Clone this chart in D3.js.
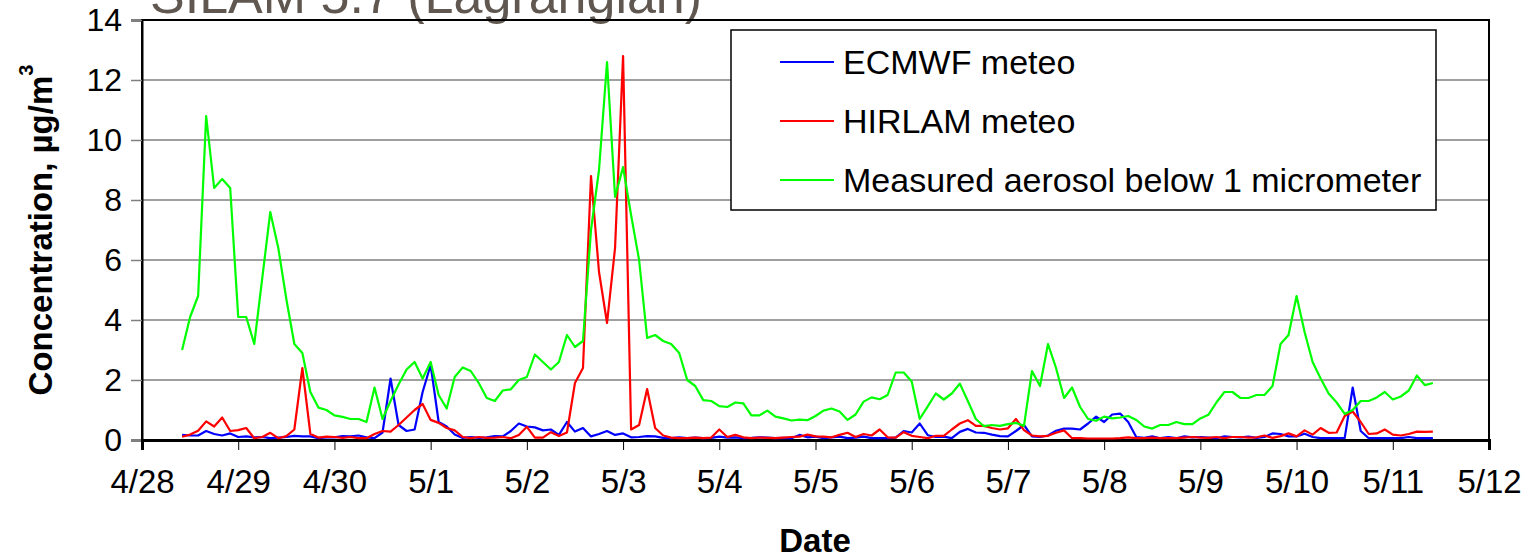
<!DOCTYPE html>
<html>
<head>
<meta charset="utf-8">
<script src="https://cdn.jsdelivr.net/npm/d3@7"></script>
<style>
  body { margin: 0; background: #fff; }
  text { font-family: "Liberation Sans", Arial, sans-serif; }
</style>
</head>
<body>
<div id="chartArea"></div>
<script>
// SILAM 5.7 (Lagrangian) - modelled vs measured aerosol, 2-hourly values
// first value at 4/28 10:00, one value every 2 hours

const startTime = new Date(2006, 3, 28, 10);
const stepHours = 2;

const ecmwf = [
  0.17, 0.15, 0.15, 0.3, 0.2, 0.15, 0.22, 0.1, 0.12, 0.09, 0.1, 0.06,
  0.08, 0.1, 0.14, 0.12, 0.12, 0.06, 0.09, 0.09, 0.13, 0.12, 0.15, 0.09,
  0.06, 0.25, 2.05, 0.5, 0.3, 0.35, 1.6, 2.5, 0.6, 0.45, 0.18, 0.07,
  0.1, 0.07, 0.09, 0.13, 0.12, 0.3, 0.55, 0.45, 0.42, 0.32, 0.35, 0.17,
  0.6, 0.28, 0.4, 0.12, 0.2, 0.3, 0.17, 0.22, 0.09, 0.1, 0.13, 0.12,
  0.07, 0.06, 0.09, 0.06, 0.08, 0.06, 0.07, 0.11, 0.08, 0.09, 0.06, 0.07,
  0.09, 0.08, 0.06, 0.07, 0.06, 0.17, 0.09, 0.11, 0.06, 0.09, 0.11, 0.06,
  0.08, 0.11, 0.06, 0.06, 0.06, 0.08, 0.3, 0.25, 0.55, 0.16, 0.1, 0.11,
  0.06, 0.27, 0.37, 0.25, 0.24, 0.18, 0.13, 0.12, 0.3, 0.5, 0.12, 0.1,
  0.15, 0.31, 0.38, 0.38, 0.35, 0.55, 0.78, 0.6, 0.85, 0.88, 0.6, 0.1,
  0.07, 0.12, 0.06, 0.1, 0.06, 0.12, 0.09, 0.1, 0.08, 0.06, 0.12, 0.1,
  0.09, 0.11, 0.07, 0.1, 0.22, 0.2, 0.12, 0.12, 0.21, 0.1, 0.06, 0.06,
  0.06, 0.06, 1.75, 0.3, 0.06, 0.06, 0.06, 0.06, 0.06, 0.1, 0.06, 0.06,
  0.06
];

const hirlam = [
  0.11, 0.18, 0.31, 0.62, 0.45, 0.75, 0.3, 0.33, 0.4, 0.06, 0.1, 0.24,
  0.06, 0.13, 0.35, 2.4, 0.2, 0.08, 0.11, 0.1, 0.07, 0.1, 0.06, 0.06,
  0.2, 0.3, 0.28, 0.5, 0.75, 1.0, 1.2, 0.67, 0.57, 0.4, 0.32, 0.1,
  0.06, 0.1, 0.07, 0.08, 0.1, 0.06, 0.17, 0.44, 0.08, 0.08, 0.26, 0.13,
  0.25, 1.9, 2.4, 8.8, 5.6, 3.9, 6.4, 12.8, 0.35, 0.5, 1.7, 0.4,
  0.15, 0.08, 0.06, 0.06, 0.08, 0.06, 0.08, 0.35, 0.1, 0.17, 0.09, 0.06,
  0.08, 0.07, 0.06, 0.08, 0.1, 0.11, 0.18, 0.12, 0.11, 0.09, 0.17, 0.24,
  0.1, 0.2, 0.15, 0.35, 0.09, 0.08, 0.26, 0.14, 0.1, 0.06, 0.14, 0.14,
  0.35, 0.55, 0.66, 0.47, 0.47, 0.4, 0.35, 0.39, 0.7, 0.33, 0.15, 0.12,
  0.14, 0.24, 0.32, 0.06, 0.06, 0.05, 0.05, 0.05, 0.05, 0.06, 0.09, 0.06,
  0.06, 0.08, 0.06, 0.06, 0.06, 0.08, 0.1, 0.08, 0.07, 0.1, 0.06, 0.1,
  0.1, 0.08, 0.09, 0.15, 0.07, 0.13, 0.22, 0.12, 0.32, 0.18, 0.4, 0.24,
  0.25, 0.8, 0.95, 0.6, 0.2, 0.22, 0.35, 0.18, 0.15, 0.2, 0.28, 0.27,
  0.28
];

const measured = [
  3.0, 4.1, 4.8, 10.8, 8.4, 8.7, 8.4, 4.1, 4.1, 3.2, 5.4, 7.6,
  6.4, 4.7, 3.2, 2.9, 1.6, 1.08, 1.0, 0.82, 0.77, 0.7, 0.7, 0.6,
  1.75, 0.7, 1.3, 1.85, 2.35, 2.6, 2.05, 2.6, 1.5, 1.05, 2.1, 2.42,
  2.3, 1.9, 1.4, 1.3, 1.65, 1.69, 2.0, 2.1, 2.85, 2.6, 2.35, 2.6,
  3.5, 3.1, 3.3, 7.0, 9.0, 12.6, 8.1, 9.1, 7.5, 6.0, 3.4, 3.5,
  3.3, 3.2, 2.9, 2.0, 1.8, 1.33, 1.3, 1.13, 1.1, 1.25, 1.22, 0.82,
  0.82, 0.98, 0.78, 0.72, 0.65, 0.68, 0.66, 0.8, 0.98, 1.05, 0.95, 0.67,
  0.85, 1.28, 1.42, 1.36, 1.5, 2.25, 2.25, 1.95, 0.7, 1.12, 1.55, 1.35,
  1.55, 1.88, 1.3, 0.7, 0.46, 0.5, 0.47, 0.53, 0.57, 0.47, 2.3, 1.8,
  3.2, 2.4, 1.4, 1.75, 1.1, 0.7, 0.64, 0.78, 0.72, 0.75, 0.8, 0.67,
  0.45, 0.38, 0.5, 0.5, 0.6, 0.53, 0.53, 0.72, 0.84, 1.25, 1.6, 1.6,
  1.4, 1.4, 1.5, 1.5, 1.8, 3.2, 3.5, 4.8, 3.6, 2.6, 2.05, 1.55,
  1.25, 0.87, 1.0, 1.3, 1.3, 1.42, 1.6, 1.35, 1.45, 1.65, 2.15, 1.83,
  1.9
];

const seriesNames = ["ECMWF meteo", "HIRLAM meteo", "Measured aerosol below 1 micrometer"];
const seriesColors = ["#0000ff", "#ff0000", "#00ff00"];
const yTicks = [0, 2, 4, 6, 8, 10, 12, 14];
const xStart = new Date(2006, 3, 28);
const xEnd = new Date(2006, 4, 12);

const width = 1526;
const height = 559;
const margin = { top: 20, right: 37, bottom: 119, left: 142 };

const svg = d3.select("#chartArea")
  .append("svg")
  .attr("width", width)
  .attr("height", height);

const xScale = d3.scaleTime()
  .domain([xStart, xEnd])
  .range([margin.left, width - margin.right]);

const yScale = d3.scaleLinear()
  .domain([0, 14])
  .range([height - margin.bottom, margin.top]);

const timeAt = (i) => d3.timeHour.offset(startTime, i * stepHours);

// title (partly cut off at the top, as in the original)
svg.append("text")
  .attr("x", 150)
  .attr("y", 13)
  .attr("font-size", 52)
  .attr("fill", "#5f5750")
  .text("SILAM 5.7 (Lagrangian)");

// gridlines
svg.append("g")
  .selectAll("line")
  .data(yTicks.filter((d) => d > 0 && d < 14))
  .join("line")
  .attr("x1", margin.left)
  .attr("x2", width - margin.right)
  .attr("y1", (d) => yScale(d))
  .attr("y2", (d) => yScale(d))
  .attr("stroke", "#808080")
  .attr("stroke-width", 1.5);

// plot border
svg.append("rect")
  .attr("x", margin.left)
  .attr("y", margin.top)
  .attr("width", width - margin.left - margin.right)
  .attr("height", height - margin.top - margin.bottom)
  .attr("fill", "none")
  .attr("stroke", "#000")
  .attr("stroke-width", 2);

// y axis
const yAxis = svg.append("g")
  .attr("transform", `translate(${margin.left}, 0)`)
  .call(d3.axisLeft(yScale).tickValues(yTicks).tickSize(11).tickPadding(9));
yAxis.select(".domain").attr("stroke", "#000").attr("stroke-width", 2);
yAxis.selectAll(".tick line").attr("stroke", "#808080").attr("stroke-width", 1.5);
yAxis.selectAll("text").attr("font-size", 32).attr("fill", "#000")
  .attr("font-family", "Liberation Sans, Arial, sans-serif");

// x axis
const xAxis = svg.append("g")
  .attr("transform", `translate(0, ${height - margin.bottom})`)
  .call(d3.axisBottom(xScale)
    .ticks(d3.timeDay.every(1))
    .tickFormat(d3.timeFormat("%-m/%-d"))
    .tickSize(10)
    .tickPadding(20));
xAxis.select(".domain").attr("stroke", "#000").attr("stroke-width", 3);
xAxis.selectAll(".tick line").attr("stroke", "#000").attr("stroke-width", 1);
xAxis.selectAll("text").attr("font-size", 33).attr("fill", "#000")
  .attr("font-family", "Liberation Sans, Arial, sans-serif");

// series lines
const line = d3.line()
  .x((d, i) => xScale(timeAt(i)))
  .y((d) => yScale(d));

[ecmwf, hirlam, measured].forEach((values, k) => {
  svg.append("path")
    .datum(values)
    .attr("fill", "none")
    .attr("stroke", seriesColors[k])
    .attr("stroke-width", 2.2)
    .attr("stroke-linejoin", "round")
    .attr("d", line);
});

// axis titles
svg.append("text")
  .attr("transform", "translate(40, 230) rotate(-90)")
  .attr("text-anchor", "middle")
  .attr("dominant-baseline", "central")
  .attr("font-size", 33)
  .attr("font-weight", "bold")
  .text("Concentration, \u00b5g/m")
  .append("tspan")
  .attr("font-size", 20)
  .attr("dy", -14)
  .text("3");

svg.append("text")
  .attr("x", 815)
  .attr("y", 552)
  .attr("text-anchor", "middle")
  .attr("font-size", 33)
  .attr("font-weight", "bold")
  .text("Date");

// legend
const legend = svg.append("g").attr("transform", "translate(731, 30)");
legend.append("rect")
  .attr("width", 705)
  .attr("height", 180)
  .attr("fill", "#fff")
  .attr("stroke", "#000")
  .attr("stroke-width", 1.5);

const rows = legend.selectAll(".row")
  .data(seriesNames)
  .join("g")
  .attr("class", "row")
  .attr("transform", (d, i) => `translate(0, ${32 + i * 59})`);
rows.append("line")
  .attr("x1", 49)
  .attr("x2", 103)
  .attr("stroke", (d, i) => seriesColors[i])
  .attr("stroke-width", 2);
rows.append("text")
  .attr("x", 112)
  .attr("dy", "0.35em")
  .attr("font-size", 34)
  .attr("fill", "#000")
  .text((d) => d);
</script>
</body>
</html>
